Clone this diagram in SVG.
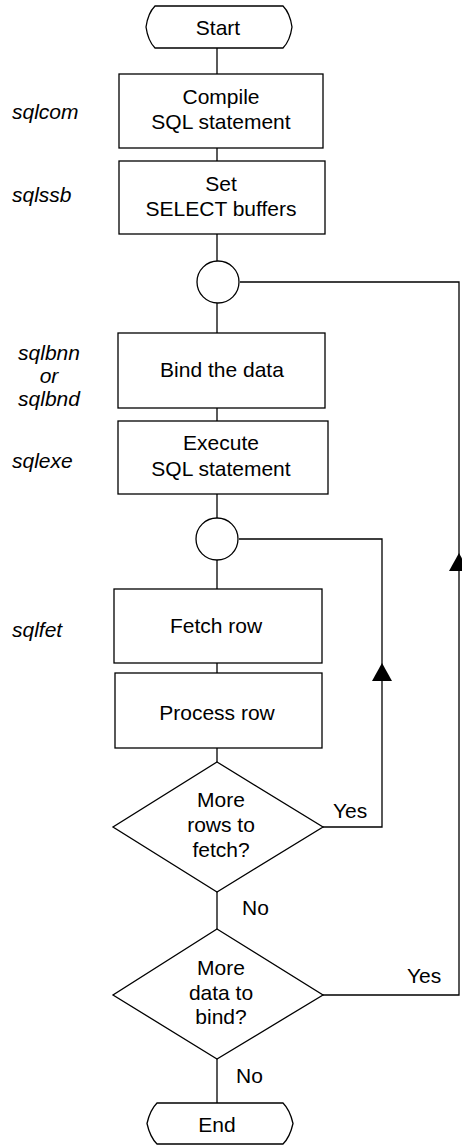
<svg xmlns="http://www.w3.org/2000/svg" width="462" height="1145" viewBox="0 0 462 1145">
<style>
  .shape { fill: #fff; stroke: #000; stroke-width: 1.3; }
  .line { fill: none; stroke: #000; stroke-width: 1.3; }
  text { font-family: "Liberation Sans", Arial, sans-serif; font-size: 21px; fill: #000; }
  .c { text-anchor: middle; }
  .it { font-style: italic; }
</style>
<defs>
  <marker id="arr" viewBox="0 0 18 20" refX="18" refY="10" markerWidth="18" markerHeight="20" markerUnits="userSpaceOnUse" orient="auto">
    <path d="M0,0 L18,10 L0,20 Z" fill="#000"/>
  </marker>
</defs>
<rect width="462" height="1145" fill="#fff"/>
<g id="connectors">
  <path class="line" d="M217,48 V74"/>
  <path class="line" d="M217,148 V161"/>
  <path class="line" d="M217,234 V261"/>
  <path class="line" d="M217,303 V333"/>
  <path class="line" d="M217,408 V421"/>
  <path class="line" d="M217,494 V518"/>
  <path class="line" d="M217,560 V589"/>
  <path class="line" d="M217,663 V673"/>
  <path class="line" d="M217,748 V762"/>
  <path class="line" d="M217,892 V929"/>
  <path class="line" d="M217,1059 V1103"/>
  <path class="line" d="M323,827 H382 V663" marker-end="url(#arr)"/>
  <path class="line" d="M382,663 V539 H239"/>
  <path class="line" d="M323,995 H459 V553" marker-end="url(#arr)"/>
  <path class="line" d="M459,553 V282 H240"/>
  <text x="333" y="818">Yes</text>
  <text x="242" y="915">No</text>
  <text x="407" y="983">Yes</text>
  <text x="236" y="1083">No</text>
</g>
<g id="start">
  <path class="shape" d="M155,6 H283 Q290,13 292,27 Q290,41 283,48 H155 Q148,41 146,27 Q148,13 155,6 Z"/>
  <text class="c" x="218" y="35">Start</text>
</g>
<g id="compile">
  <rect class="shape" x="119" y="74" width="204" height="74"/>
  <text class="c" x="221" y="104">Compile</text>
  <text class="c" x="221" y="129">SQL statement</text>
  <text class="it" x="12" y="119">sqlcom</text>
</g>
<g id="setbuffers">
  <rect class="shape" x="119" y="161" width="206" height="73"/>
  <text class="c" x="221" y="191">Set</text>
  <text class="c" x="221" y="216">SELECT buffers</text>
  <text class="it" x="12" y="202">sqlssb</text>
</g>
<g id="join1">
  <circle class="shape" cx="218" cy="282" r="21"/>
</g>
<g id="bind">
  <rect class="shape" x="118" y="333" width="207" height="75"/>
  <text class="c" x="222" y="377">Bind the data</text>
  <text class="it c" x="49" y="360">sqlbnn</text>
  <text class="it c" x="49" y="383">or</text>
  <text class="it c" x="49" y="406">sqlbnd</text>
</g>
<g id="execute">
  <rect class="shape" x="118" y="421" width="210" height="73"/>
  <text class="c" x="221" y="450">Execute</text>
  <text class="c" x="221" y="476">SQL statement</text>
  <text class="it" x="12" y="468">sqlexe</text>
</g>
<g id="join2">
  <circle class="shape" cx="217" cy="539" r="21"/>
</g>
<g id="fetch">
  <rect class="shape" x="114" y="589" width="208" height="74"/>
  <text class="c" x="216" y="633">Fetch row</text>
  <text class="it" x="12" y="637">sqlfet</text>
</g>
<g id="process">
  <rect class="shape" x="115" y="673" width="207" height="75"/>
  <text class="c" x="217" y="720">Process row</text>
</g>
<g id="morerows">
  <polygon class="shape" points="217,762 323,827 217,892 113,827"/>
  <text class="c" x="221" y="807">More</text>
  <text class="c" x="221" y="832">rows to</text>
  <text class="c" x="221" y="857">fetch?</text>
</g>
<g id="moredata">
  <polygon class="shape" points="217,929 323,995 217,1059 113,995"/>
  <text class="c" x="221" y="975">More</text>
  <text class="c" x="221" y="1000">data to</text>
  <text class="c" x="221" y="1024">bind?</text>
</g>
<g id="end">
  <path class="shape" d="M157,1103 H283 Q290,1110 293,1123.5 Q290,1137 283,1144 H157 Q150,1137 147,1123.5 Q150,1110 157,1103 Z"/>
  <text class="c" x="217" y="1132">End</text>
</g>
</svg>
